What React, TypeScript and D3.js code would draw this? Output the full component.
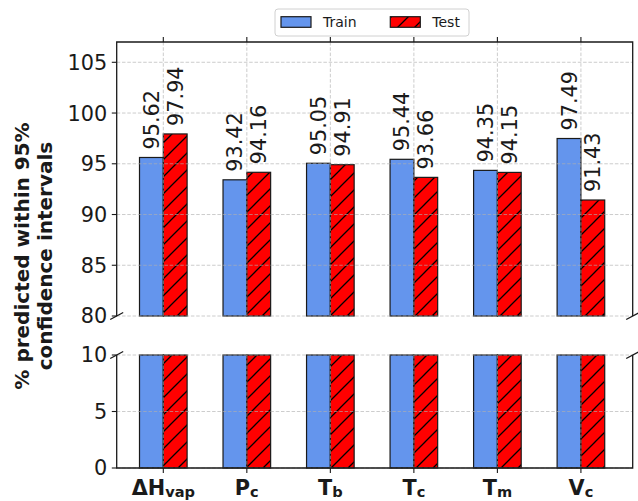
import React, { useEffect, useRef } from 'react';
import * as d3 from 'd3';

const categories = ['ΔH|vap', 'P|c', 'T|b', 'T|c', 'T|m', 'V|c'];
const trainValues = [95.62, 93.42, 95.05, 95.44, 94.35, 97.49];
const testValues = [97.94, 94.16, 94.91, 93.66, 94.15, 91.43];
const topTicks = [80, 85, 90, 95, 100, 105];
const bottomTicks = [0, 5, 10];
const seriesNames = ['Train', 'Test'];

const FONT = '"DejaVu Sans", sans-serif';
const BLUE = '#6495ED';
const RED = '#FF0000';
const EDGE = '#1a1a1a';

export default function App() {
  const svgRef = useRef<SVGSVGElement>(null);

  useEffect(() => {
    if (!svgRef.current) return;
    const width = 638;
    const height = 501;
    const left = 116.7;
    const right = 632.7;
    const topY0 = 42, topY1 = 316;
    const botY0 = 355, botY1 = 468;
    const barW = 0.285;

    const svg = d3.select(svgRef.current);
    svg.selectAll('*').remove();
    svg.attr('width', width).attr('height', height);

    // hatch pattern for the test bars
    const defs = svg.append('defs');
    const pat = defs.append('pattern')
      .attr('id', 'hatch')
      .attr('patternUnits', 'userSpaceOnUse')
      .attr('width', 17)
      .attr('height', 17);
    pat.append('rect').attr('width', 17).attr('height', 17).attr('fill', RED);
    pat.append('path')
      .attr('d', 'M0,17 L17,0 M-4,4 L4,-4 M13,21 L21,13')
      .attr('stroke', '#000')
      .attr('stroke-width', 1.3);

    const x = d3.scaleLinear().domain([-0.558, 5.62]).range([left, right]);
    const yTop = d3.scaleLinear().domain([80, 107]).range([topY1, topY0]);
    const yBot = d3.scaleLinear().domain([0, 10]).range([botY1, botY0]);

    const series = [
      { name: seriesNames[0], values: trainValues, fill: BLUE, offset: -barW },
      { name: seriesNames[1], values: testValues, fill: 'url(#hatch)', offset: 0 },
    ];

    const panels = [
      { y: yTop, y0: topY0, y1: topY1, ticks: topTicks },
      { y: yBot, y0: botY0, y1: botY1, ticks: bottomTicks },
    ];

    panels.forEach((p) => {
      const g = svg.append('g');
      series.forEach((s) => {
        g.selectAll(null)
          .data(s.values)
          .join('rect')
          .attr('x', (_, i) => x(i + s.offset))
          .attr('width', x(barW) - x(0))
          .attr('y', (d) => p.y(Math.min(d, p.y.domain()[1])))
          .attr('height', (d) => p.y1 - p.y(Math.min(d, p.y.domain()[1])))
          .attr('fill', s.fill)
          .attr('stroke', EDGE)
          .attr('stroke-width', 1.2);
      });

      // grid on top of bars
      const grid = svg.append('g')
        .attr('stroke', '#b0b0b0')
        .attr('stroke-width', 0.9)
        .attr('stroke-dasharray', '3.5,1.8')
        .attr('opacity', 0.7);
      grid.selectAll(null)
        .data(p.ticks)
        .join('line')
        .attr('x1', left).attr('x2', right)
        .attr('y1', (d) => p.y(d)).attr('y2', (d) => p.y(d));
      grid.selectAll(null)
        .data(categories)
        .join('line')
        .attr('x1', (_, i) => x(i)).attr('x2', (_, i) => x(i))
        .attr('y1', p.y0).attr('y2', p.y1);

      // y ticks and labels
      const yt = svg.append('g');
      yt.selectAll(null)
        .data(p.ticks)
        .join('line')
        .attr('x1', left - 4.9).attr('x2', left)
        .attr('y1', (d) => p.y(d)).attr('y2', (d) => p.y(d))
        .attr('stroke', EDGE).attr('stroke-width', 1.1);
      yt.selectAll(null)
        .data(p.ticks)
        .join('text')
        .attr('x', left - 9.5)
        .attr('y', (d) => p.y(d))
        .attr('dy', '0.36em')
        .attr('text-anchor', 'end')
        .style('font-family', FONT)
        .style('font-size', '20.8px')
        .attr('fill', '#1a1a1a')
        .text((d) => d);
    });

    // value labels above bars (top panel)
    series.forEach((s) => {
      svg.append('g')
        .selectAll(null)
        .data(s.values)
        .join('text')
        .attr('transform', (d, i) =>
          `translate(${x(i + s.offset + barW / 2)},${yTop(d) - 8}) rotate(-90)`)
        .attr('dy', '0.36em')
        .style('font-family', FONT)
        .style('font-size', '20.8px')
        .attr('fill', '#1a1a1a')
        .text((d) => d.toFixed(2));
    });

    // spines
    const sp = svg.append('g').attr('stroke', EDGE).attr('stroke-width', 1.3).attr('fill', 'none');
    sp.append('path').attr('d', `M${left},${topY1} V${topY0} H${right} V${topY1}`);
    sp.append('path').attr('d', `M${left},${botY0} V${botY1} H${right} V${botY0}`);

    // x ticks: top of upper panel, bottom of lower panel
    const xt = svg.append('g').attr('stroke', EDGE).attr('stroke-width', 1.1);
    xt.selectAll(null)
      .data(categories)
      .join('line')
      .attr('x1', (_, i) => x(i)).attr('x2', (_, i) => x(i))
      .attr('y1', topY0 - 4.9).attr('y2', topY0);
    xt.selectAll(null)
      .data(categories)
      .join('line')
      .attr('x1', (_, i) => x(i)).attr('x2', (_, i) => x(i))
      .attr('y1', botY1).attr('y2', botY1 + 4.9);

    // category labels with subscripts
    const xl = svg.append('g')
      .selectAll(null)
      .data(categories)
      .join('text')
      .attr('x', (_, i) => x(i))
      .attr('y', 494.5)
      .attr('text-anchor', 'middle')
      .style('font-family', FONT)
      .style('font-weight', 'bold')
      .style('font-size', '20.8px')
      .attr('fill', '#1a1a1a');
    xl.append('tspan').text((d) => d.split('|')[0]);
    xl.append('tspan')
      .attr('dy', 2.5)
      .style('font-size', '14.6px')
      .text((d) => d.split('|')[1]);

    // break marks
    const bm = svg.append('g').attr('stroke', EDGE).attr('stroke-width', 1.3);
    [left, right].forEach((sx) => {
      [topY1, botY0].forEach((sy) => {
        bm.append('line')
          .attr('x1', sx - 6.5).attr('y1', sy + 3.5)
          .attr('x2', sx + 6.5).attr('y2', sy - 3.5);
      });
    });

    // y axis label
    const yl = svg.append('text')
      .attr('transform', `translate(0,${(topY0 + botY1) / 2 + 1}) rotate(-90)`)
      .attr('text-anchor', 'middle')
      .style('font-family', FONT)
      .style('font-weight', 'bold')
      .style('font-size', '20px')
      .attr('fill', '#1a1a1a');
    yl.append('tspan').attr('x', 0).attr('y', 29).text('% predicted within 95%');
    yl.append('tspan').attr('x', 0).attr('y', 52).text('confidence intervals');

    // legend
    const lg = svg.append('g');
    lg.append('rect')
      .attr('x', 275).attr('y', 9).attr('width', 194).attr('height', 27).attr('rx', 3)
      .attr('fill', '#fff').attr('fill-opacity', 0.8)
      .attr('stroke', '#d0d0d0');
    series.forEach((s, i) => {
      const lx = 281 + i * 109.3;
      lg.append('rect')
        .attr('x', lx).attr('y', 16.7).attr('width', 30).attr('height', 10.6)
        .attr('fill', s.fill).attr('stroke', EDGE).attr('stroke-width', 1.2);
      lg.append('text')
        .attr('x', lx + 42).attr('y', 27.3)
        .style('font-family', FONT)
        .style('font-size', '14px')
        .attr('fill', '#1a1a1a')
        .text(s.name);
    });
  }, []);

  return (
    <svg ref={svgRef} style={{ position: 'absolute', left: 0, top: 0, background: '#fff' }}></svg>
  );
}
